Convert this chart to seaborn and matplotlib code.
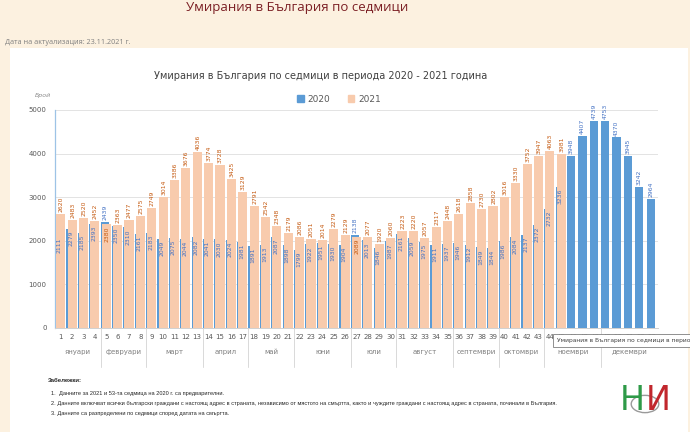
import numpy as np
import pandas as pd
import matplotlib
matplotlib.use("Agg")
import matplotlib.pyplot as plt
import seaborn as sns
from matplotlib.patches import Rectangle, Circle
from matplotlib.lines import Line2D

# ---------------- data ----------------
weeks_2020 = list(range(1, 54))
deaths_2020 = [2111, 2279, 2185, 2393, 2439, 2350, 2310, 2161, 2183, 2049,
               2075, 2044, 2082, 2041, 2030, 2024, 1981, 1891, 1913, 2087,
               1898, 1799, 1922, 1951, 1930, 1904, 2138, 2013, 1846, 1987,
               2161, 2059, 1975, 1911, 1937, 1946, 1912, 1849, 1844, 1986,
               2084, 2137, 2372, 2732, 3236, 3948, 4407, 4739, 4753, 4370,
               3945, 3242, 2964]
weeks_2021 = list(range(1, 46))
deaths_2021 = [2620, 2483, 2520, 2452, 2380, 2363, 2477, 2575, 2749, 3014,
               3386, 3676, 4036, 3774, 3728, 3425, 3129, 2791, 2542, 2348,
               2179, 2086, 2051, 2014, 2279, 2129, 2089, 2077, 1920, 2060,
               2223, 2220, 2057, 2317, 2448, 2618, 2858, 2730, 2802, 3016,
               3330, 3752, 3947, 4063, 3981]
months = ["януари", "февруари", "март", "април", "май", "юни", "юли",
          "август", "септември", "октомври", "ноември", "декември"]
month_first_week = [1, 5, 9, 14, 18, 22, 27, 31, 36, 40, 44, 49]
month_last_week = [4, 8, 13, 17, 21, 26, 30, 35, 39, 43, 48, 53]
y_ticks = [0, 1000, 2000, 3000, 4000, 5000]

page_title = "Умирания в България по седмици"
update_text = "Дата на актуализация: 23.11.2021 г."
chart_title = "Умирания в България по седмици в периода 2020 - 2021 година"
notes_head = "Забележки:"
notes = [
    "1.  Данните за 2021 и 53-та седмица на 2020 г. са предварителни.",
    "2. Данните включват всички български граждани с настоящ адрес в страната, независимо от мястото на смъртта, както и чуждите граждани с настоящ адрес в страната, починали в България.",
    "3. Данните са разпределени по седмици според датата на смъртта.",
]

BLUE = "#5b9bd5"
PEACH = "#f8cbad"
BLUE_TXT = "#4472c4"
ORANGE_TXT = "#c55a11"
GRAY = "#595959"
CREAM = "#fcf1e0"

sns.set_theme(style="white")
plt.rcParams["font.family"] = ["DejaVu Sans"]

W, H = 690, 432
fig = plt.figure(figsize=(W / 100, H / 100), dpi=100, facecolor=CREAM)

def fx(px):
    return px / W

def fy(py):
    return 1 - py / H

# white panel (behind everything)
fig.patches.append(Rectangle((fx(10), 0), fx(688) - fx(10), fy(48), transform=fig.transFigure,
                             facecolor="white", edgecolor="none", zorder=-5))

fig.text(fx(297), fy(7), page_title, ha="center", va="center", fontsize=9.5,
         color="#7b1f24", family=["Open Sans", "DejaVu Sans"])
fig.text(fx(5), fy(43), update_text, ha="left", va="center", fontsize=5.2, color="#7f7f7f",
         family=["Open Sans", "DejaVu Sans"])

ax = fig.add_axes([fx(55), fy(328), fx(658) - fx(55), (328 - 110) / H])
ax.set_facecolor("none")

df20 = pd.DataFrame({"week": np.array(weeks_2020, dtype=float) - 0.14, "deaths": deaths_2020})
df21 = pd.DataFrame({"week": np.array(weeks_2021, dtype=float), "deaths": deaths_2021})

sns.barplot(data=df20, x="week", y="deaths", native_scale=True, color=BLUE, saturation=1,
            width=0.72, errorbar=None, ax=ax, zorder=2, linewidth=0)
sns.barplot(data=df21, x="week", y="deaths", native_scale=True, color=PEACH, saturation=1,
            width=0.8, errorbar=None, ax=ax, zorder=3, linewidth=0)

ax.set_xlim(0.5, 53.5)
ax.set_ylim(0, 5000)
ax.set_yticks(y_ticks)
ax.set_xticks(weeks_2020)
ax.set_xticklabels([str(w) for w in weeks_2020])
ax.set_xlabel("")
ax.set_ylabel("")
ax.tick_params(axis="x", length=0, pad=4, labelsize=5, labelcolor=GRAY)
ax.tick_params(axis="y", length=0, pad=6, labelsize=5, labelcolor=GRAY)
for t in y_ticks[1:]:
    ax.axhline(t, color="#e3e3e3", lw=0.7, zorder=0)
for s in ["top", "right"]:
    ax.spines[s].set_visible(False)
ax.spines["left"].set_color("#9dc3e6")
ax.spines["left"].set_linewidth(0.9)
ax.spines["bottom"].set_color("#d0d0d0")
ax.spines["bottom"].set_linewidth(0.7)

# data labels
d21 = dict(zip(weeks_2021, deaths_2021))
pad = 45
lab_fs = 4.4
for w, v in zip(weeks_2020, deaths_2020):
    other = d21.get(w)
    if other is not None and other > v:
        ax.text(w - 0.1, v - pad, str(v), rotation=90, ha="center", va="top",
                fontsize=lab_fs, color=BLUE_TXT, zorder=5)
    else:
        ax.text(w - 0.14, v + pad, str(v), rotation=90, ha="center", va="bottom",
                fontsize=lab_fs, color=BLUE_TXT, zorder=5)
d20 = dict(zip(weeks_2020, deaths_2020))
for w, v in zip(weeks_2021, deaths_2021):
    if d20[w] > v:
        ax.text(w + 0.05, v - pad, str(v), rotation=90, ha="center", va="top",
                fontsize=lab_fs, color=ORANGE_TXT, zorder=5)
    else:
        ax.text(w + 0.05, v + pad, str(v), rotation=90, ha="center", va="bottom",
                fontsize=lab_fs, color=ORANGE_TXT, zorder=5)

# month labels and separators
xt = ax.get_xaxis_transform()
for name, a, b in zip(months, month_first_week, month_last_week):
    ax.text((a + b) / 2, -0.11, name, transform=xt, ha="center", va="center",
            fontsize=5, color="#808080")
for b in month_last_week[:-1]:
    ax.add_line(Line2D([b + 0.5, b + 0.5], [0, -0.18], transform=xt, color="#d9d9d9",
                       lw=0.7, clip_on=False))

# titles, legend
fig.text(fx(321), fy(76), chart_title, ha="center", va="center", fontsize=7, color="#404040")
fig.text(fx(35), fy(95), "Брой", ha="left", va="center", fontsize=4.5, color="#8c8c8c",
         style="italic")
handles = [Rectangle((0, 0), 1, 1, color=BLUE), Rectangle((0, 0), 1, 1, color=PEACH)]
fig.legend(handles, ["2020", "2021"], loc="center", bbox_to_anchor=(fx(339), fy(99)), ncol=2,
           frameon=False, fontsize=6.5, labelcolor=GRAY, handlelength=0.7, handleheight=0.7,
           handletextpad=0.4, columnspacing=2.0)

# tooltip artifact (cut at the right edge in the reference as well)
fig.text(fx(557), fy(340.5), chart_title, ha="left", va="center", fontsize=4.3, color="#404040",
         bbox=dict(boxstyle="square,pad=0.6", facecolor="white", edgecolor="#7f7f7f", lw=0.6),
         zorder=10)

# notes
nfam = ["Liberation Sans Narrow", "Liberation Sans", "DejaVu Sans"]
fig.text(fx(48), fy(381), notes_head, ha="left", va="center", fontsize=4.3, color="#262626",
         fontweight="bold", family=nfam)
for i, line in enumerate(notes):
    fig.text(fx(51), fy(393 + 10.5 * i), line, ha="left", va="center", fontsize=4.1,
             color="#262626", family=nfam)

# logo
fig.text(fx(620), fy(400), "Н", ha="left", va="center", fontsize=24, color="#2e9a48",
         family=["Liberation Sans Narrow", "DejaVu Sans"])
fig.text(fx(646), fy(400), "И", ha="left", va="center", fontsize=24, color="#c1272d",
         family=["Liberation Sans Narrow", "DejaVu Sans"])
fig.patches.append(Circle((fx(645), fy(404)), 0.02, transform=fig.transFigure, fill=False,
                          edgecolor="#9a9a9a", lw=1.0))

fig.savefig("out.png", dpi=100, facecolor=fig.get_facecolor())
